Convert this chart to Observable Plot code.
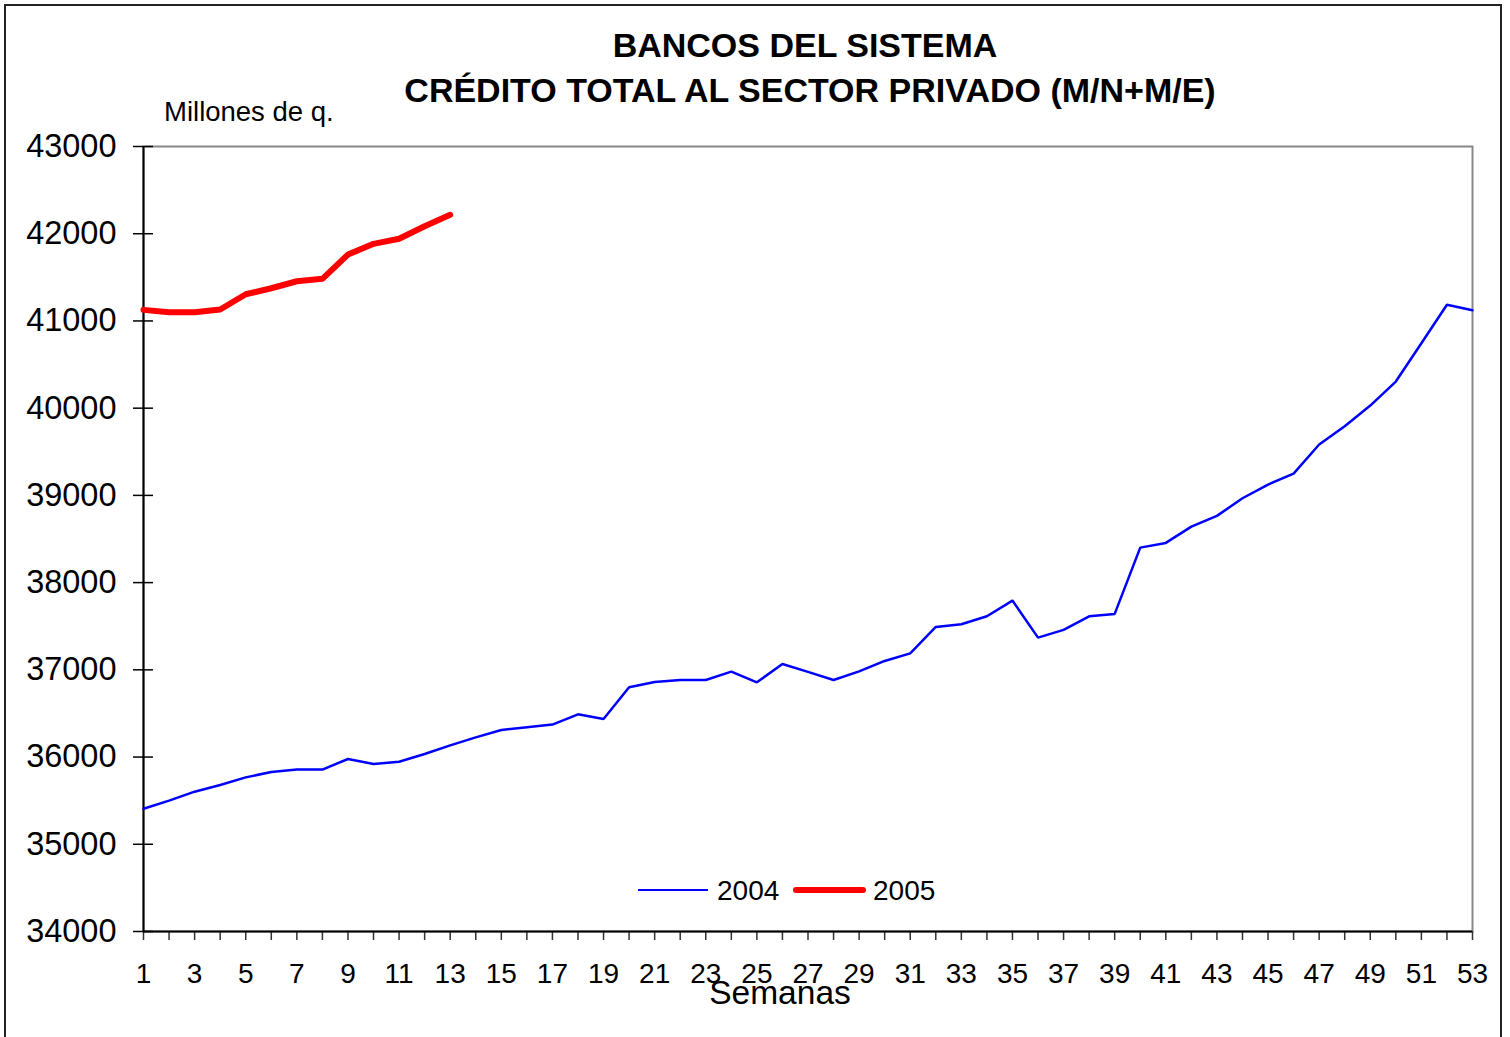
<!DOCTYPE html>
<html>
<head>
<meta charset="utf-8">
<script src="https://cdn.jsdelivr.net/npm/d3@7"></script>
<script src="https://cdn.jsdelivr.net/npm/@observablehq/plot@0.6"></script>
<style>
  body { margin: 0; background: #fff; font-family: "Liberation Sans", Arial, sans-serif; }
  #wrap { position: relative; width: 1510px; height: 1037px; overflow: hidden; }
  #border { position: absolute; left: 4px; top: 4px; width: 1498px; height: 1040px; border: 2px solid #222; box-sizing: border-box; }
  .abs { position: absolute; white-space: nowrap; color: #000; }
  .title { font-weight: bold; font-size: 34px; line-height: 38px; transform: translateX(-50%); }
  .sw { position: absolute; }
</style>
</head>
<body>
<div id="wrap">
  <div id="chart"></div>
  <div id="border"></div>
  <div class="abs title" style="left:805px; top:26px;">BANCOS DEL SISTEMA</div>
  <div class="abs title" style="left:810px; top:71px;">CRÉDITO TOTAL AL SECTOR PRIVADO (M/N+M/E)</div>
  <div class="abs" style="left:164px; top:96px; font-size:27.5px; line-height:32px;">Millones de q.</div>
  <div class="abs" style="left:780px; top:974px; font-size:33.5px; line-height:38px; transform: translateX(-50%);">Semanas</div>
  <div id="legend"></div>
</div>
<script>
const weeks2004 = d3.range(1, 54);
const values2004 = [35408, 35500, 35603, 35680, 35767, 35829, 35856, 35856, 35978, 35921,
  35947, 36035, 36134, 36226, 36310, 36341, 36372, 36490, 36437, 36800,
  36861, 36884, 36884, 36979, 36857, 37067, 36976, 36884, 36983, 37102,
  37189, 37492, 37522, 37614, 37794, 37369, 37458, 37614, 37641, 38401,
  38455, 38642, 38765, 38967, 39124, 39250, 39583, 39792, 40030, 40305,
  40744, 41185, 41123];
const weeks2005 = d3.range(1, 14);
const values2005 = [41127, 41100, 41100, 41131, 41306, 41375, 41455, 41483, 41761, 41884,
  41942, 42086, 42217];
const yTicks = d3.range(34000, 43001, 1000);
const xTickMarks = d3.range(1, 54);
const xTickLabels = d3.range(1, 54, 2);
const seriesNames = ["2004", "2005"];
const seriesColors = ["#0000ff", "#ff0000"];
const seriesWidths = [2.5, 6];

const d2004 = weeks2004.map((w, i) => ({week: w, value: values2004[i]}));
const d2005 = weeks2005.map((w, i) => ({week: w, value: values2005[i]}));

const chart = Plot.plot({
  width: 1510,
  height: 1037,
  marginLeft: 143,
  marginRight: 38,
  marginTop: 146,
  marginBottom: 106,
  style: { fontFamily: "Liberation Sans, Arial, sans-serif", color: "#000", background: "transparent" },
  x: { domain: [1, 53], type: "linear" },
  y: { domain: [34000, 43000] },
  marks: [
    Plot.frame({ stroke: "#888", strokeWidth: 2 }),
    Plot.axisY({ ticks: yTicks, tickSize: 10, tickPadding: 17, fontSize: 32.5, tickFormat: d => String(d), label: null, strokeWidth: 1.5 }),
    Plot.axisY({ ticks: yTicks, tickSize: -10, tickFormat: () => "", label: null, strokeWidth: 1.5 }),
    Plot.axisX({ ticks: xTickMarks, tickSize: 9, tickFormat: () => "", label: null, strokeWidth: 1.5, stroke: "#333" }),
    Plot.axisX({ ticks: xTickLabels, tickSize: 0, tickPadding: 32, fontSize: 28, tickFormat: d => String(d), label: null }),
    Plot.ruleX([1], { stroke: "#000", strokeWidth: 2 }),
    Plot.ruleY([34000], { stroke: "#000", strokeWidth: 2 }),
    Plot.line(d2004, { x: "week", y: "value", stroke: seriesColors[0], strokeWidth: seriesWidths[0], strokeLinejoin: "miter" }),
    Plot.line(d2005, { x: "week", y: "value", stroke: seriesColors[1], strokeWidth: seriesWidths[1], strokeLinecap: "round", strokeLinejoin: "round" })
  ]
});
document.getElementById("chart").appendChild(chart);

// legend
const legend = document.getElementById("legend");
const legendItems = [
  { swLeft: 638, swWidth: 70, textLeft: 717 },
  { swLeft: 793, swWidth: 73, textLeft: 873 }
];
seriesNames.forEach((name, i) => {
  const it = legendItems[i];
  const sw = document.createElement("div");
  sw.className = "sw";
  sw.style.left = it.swLeft + "px";
  sw.style.width = it.swWidth + "px";
  sw.style.height = seriesWidths[i] + "px";
  sw.style.top = (890 - seriesWidths[i] / 2) + "px";
  sw.style.background = seriesColors[i];
  sw.style.borderRadius = seriesWidths[i] > 3 ? "3px" : "0";
  legend.appendChild(sw);
  const t = document.createElement("div");
  t.className = "abs";
  t.style.left = it.textLeft + "px";
  t.style.top = "874px";
  t.style.fontSize = "28px";
  t.style.lineHeight = "34px";
  t.textContent = name;
  legend.appendChild(t);
});
</script>
</body>
</html>
